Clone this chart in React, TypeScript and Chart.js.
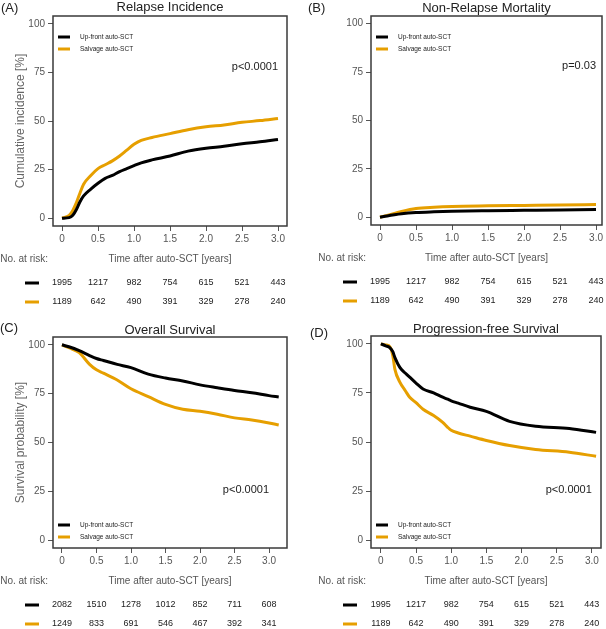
import React, { useEffect, useRef } from 'react';
import { Chart, registerables } from 'chart.js';
Chart.register(...registerables);

const FONT = '"Liberation Sans", Arial, Helvetica, sans-serif';
const BLACK = '#000000';
const ORANGE = '#E69F00';

const legendLabels = ['Up-front auto-SCT', 'Salvage auto-SCT'];
const xTickValues = [0, 0.5, 1, 1.5, 2, 2.5, 3];
const yTickValues = [0, 25, 50, 75, 100];
const riskTimes = [0, 0.5, 1, 1.5, 2, 2.5, 3];

// (A) Relapse incidence
const riTimes = [0, 0.1, 0.15, 0.2, 0.25, 0.3, 0.4, 0.5, 0.6, 0.7, 0.8, 0.9, 1.0, 1.1, 1.25, 1.5, 1.75, 2.0, 2.25, 2.5, 2.75, 3.0];
const riUpfront = [0, 0.3, 1.5, 4.5, 8.5, 11.5, 15, 18, 20.5, 22, 24, 25.5, 27, 28.5, 30, 32, 34.5, 36, 37, 38.3, 39.3, 40.5];
const riSalvage = [0, 1.5, 4, 8, 13, 17.5, 22, 25.5, 27.5, 29.5, 32, 35, 38, 40, 41.5, 43.5, 45.5, 47, 48, 49.3, 50.2, 51.3];

// (B) Non-relapse mortality
const nrmTimes = [0, 0.1, 0.2, 0.3, 0.5, 0.75, 1.0, 1.5, 2.0, 2.5, 3.0];
const nrmUpfront = [0, 0.7, 1.3, 1.8, 2.4, 2.8, 3.1, 3.4, 3.6, 3.8, 4.0];
const nrmSalvage = [0, 1.0, 2.0, 3.0, 4.5, 5.2, 5.6, 5.9, 6.1, 6.3, 6.6];

// (C) Overall survival
const osTimes = [0, 0.1, 0.25, 0.4, 0.5, 0.6, 0.8, 1.0, 1.25, 1.5, 1.75, 2.0, 2.25, 2.5, 2.75, 3.0, 3.14];
const osUpfront = [100, 99, 97, 94.5, 93, 92, 90, 88.3, 85, 83, 81.5, 79.5, 78, 76.6, 75.5, 74, 73.3];
const osSalvage = [100, 98.5, 96, 90, 87.2, 85.5, 82, 77.5, 73.5, 69.5, 67, 66, 64.5, 62.6, 61.5, 60, 59];

// (D) Progression-free survival
const pfsTimes = [0, 0.07, 0.13, 0.17, 0.2, 0.27, 0.35, 0.41, 0.5, 0.6, 0.75, 0.88, 0.95, 1.0, 1.1, 1.27, 1.5, 1.83, 2.2, 2.68, 3.06];
const pfsUpfront = [100, 99, 98, 96, 93, 88, 85, 83, 80, 77, 75, 72.8, 71.8, 71, 69.8, 67.7, 65.6, 60.5, 58, 56.9, 54.9];
const pfsSalvage = [100, 99.5, 98.5, 94, 87, 80.5, 76, 72.8, 70, 66.7, 63.5, 60, 57.5, 56, 54.6, 53, 50.8, 48.2, 46.2, 44.8, 42.7];

// Numbers at risk
const riskUpfrontCI = [1995, 1217, 982, 754, 615, 521, 443];
const riskSalvageCI = [1189, 642, 490, 391, 329, 278, 240];
const riskUpfrontOS = [2082, 1510, 1278, 1012, 852, 711, 608];
const riskSalvageOS = [1249, 833, 691, 546, 467, 392, 341];
const riskUpfrontPFS = [1995, 1217, 982, 754, 615, 521, 443];
const riskSalvagePFS = [1189, 642, 490, 391, 329, 278, 240];

type PanelDef = {
  label: string; title: string; yTitle?: string;
  times: number[]; up: number[]; sal: number[];
  riskUp: number[]; riskSal: number[];
  pText: string; pY: number; legendTop: boolean;
  xMin: number; xMax: number;
  pos: { left: number; top: number; width: number; height: number };
  area: { left: number; top: number; right: number; bottom: number };
  labelX: number; labelY: number; titleY: number;
};

const panels: PanelDef[] = [
  {
    label: '(A)', title: 'Relapse Incidence', yTitle: 'Cumulative incidence [%]',
    times: riTimes, up: riUpfront, sal: riSalvage, riskUp: riskUpfrontCI, riskSal: riskSalvageCI,
    pText: 'p<0.0001', pY: 78, legendTop: true, xMin: -0.125, xMax: 3.125,
    pos: { left: 0, top: 0, width: 303, height: 312 },
    area: { left: 53, top: 16, right: 287, bottom: 226 },
    labelX: 1, labelY: 8, titleY: 7,
  },
  {
    label: '(B)', title: 'Non-Relapse Mortality',
    times: nrmTimes, up: nrmUpfront, sal: nrmSalvage, riskUp: riskUpfrontCI, riskSal: riskSalvageCI,
    pText: 'p=0.03', pY: 78, legendTop: true, xMin: -0.125, xMax: 3.083,
    pos: { left: 303, top: 0, width: 303, height: 312 },
    area: { left: 68, top: 16, right: 299, bottom: 225 },
    labelX: 5, labelY: 8, titleY: 8,
  },
  {
    label: '(C)', title: 'Overall Survival', yTitle: 'Survival probability [%]',
    times: osTimes, up: osUpfront, sal: osSalvage, riskUp: riskUpfrontOS, riskSal: riskSalvageOS,
    pText: 'p<0.0001', pY: 25.6, legendTop: false, xMin: -0.13, xMax: 3.26,
    pos: { left: 0, top: 312, width: 303, height: 317 },
    area: { left: 53, top: 25, right: 287, bottom: 236 },
    labelX: 0, labelY: 16, titleY: 18,
  },
  {
    label: '(D)', title: 'Progression-free Survival',
    times: pfsTimes, up: pfsUpfront, sal: pfsSalvage, riskUp: riskUpfrontPFS, riskSal: riskSalvagePFS,
    pText: 'p<0.0001', pY: 25.6, legendTop: false, xMin: -0.14, xMax: 3.13,
    pos: { left: 303, top: 312, width: 303, height: 317 },
    area: { left: 68, top: 24, right: 298, bottom: 236 },
    labelX: 7, labelY: 21, titleY: 17,
  },
];

const X_AXIS_H = 20;

function makeDecor(p: PanelDef) {
  return {
    id: 'decor' + p.label,
    afterDraw(chart: any) {
      const { ctx, chartArea: a, scales } = chart;
      const xs = scales.x;
      const ys = scales.y;
      ctx.save();
      // box
      ctx.strokeStyle = '#3a3a3a';
      ctx.lineWidth = 1.5;
      ctx.strokeRect(a.left, a.top, a.right - a.left, a.bottom - a.top);

      // panel label
      ctx.fillStyle = '#222';
      ctx.textBaseline = 'middle';
      ctx.textAlign = 'left';
      ctx.font = `13px ${FONT}`;
      ctx.fillText(p.label, p.labelX, p.labelY);

      // title
      ctx.textAlign = 'center';
      ctx.font = `13px ${FONT}`;
      ctx.fillText(p.title, (a.left + a.right) / 2, p.titleY);

      // y title
      if (p.yTitle) {
        ctx.save();
        ctx.translate(21, (a.top + a.bottom) / 2);
        ctx.rotate(-Math.PI / 2);
        ctx.fillStyle = '#666';
        ctx.font = `12px ${FONT}`;
        ctx.textAlign = 'center';
        ctx.fillText(p.yTitle, 0, 0);
        ctx.restore();
      }

      // legend
      const ly1 = p.legendTop ? a.top + 21 : a.bottom - 23;
      const ly2 = p.legendTop ? a.top + 33 : a.bottom - 11;
      ctx.lineWidth = 3;
      ctx.lineCap = 'butt';
      [[ly1, BLACK, legendLabels[0]], [ly2, ORANGE, legendLabels[1]]].forEach(([y, c, t]: any) => {
        ctx.strokeStyle = c;
        ctx.beginPath();
        ctx.moveTo(a.left + 5, y);
        ctx.lineTo(a.left + 17, y);
        ctx.stroke();
        ctx.fillStyle = '#222';
        ctx.font = `6.5px ${FONT}`;
        ctx.textAlign = 'left';
        ctx.fillText(t, a.left + 27, y);
      });

      // p value
      ctx.fillStyle = '#222';
      ctx.font = `11px ${FONT}`;
      ctx.textAlign = 'right';
      ctx.fillText(p.pText, xs.getPixelForValue(3), ys.getPixelForValue(p.pY));

      // x title and risk label
      ctx.fillStyle = '#555';
      ctx.font = `10px ${FONT}`;
      ctx.textAlign = 'center';
      ctx.fillText('Time after auto-SCT [years]', (a.left + a.right) / 2, a.bottom + 33);
      ctx.textAlign = 'right';
      ctx.fillText('No. at risk:', a.left - 5, a.bottom + 33);

      // risk rows
      const rows: any[] = [[a.bottom + 57, BLACK, p.riskUp], [a.bottom + 76, ORANGE, p.riskSal]];
      rows.forEach(([y, c, vals]) => {
        ctx.strokeStyle = c;
        ctx.lineWidth = 3;
        ctx.beginPath();
        ctx.moveTo(a.left - 28, y);
        ctx.lineTo(a.left - 14, y);
        ctx.stroke();
        ctx.fillStyle = '#222';
        ctx.font = `9px ${FONT}`;
        ctx.textAlign = 'center';
        vals.forEach((v: number, i: number) => {
          ctx.fillText(String(v), xs.getPixelForValue(riskTimes[i]), y);
        });
      });
      ctx.restore();
    },
  };
}

function Panel({ p }: { p: PanelDef }) {
  const ref = useRef<HTMLCanvasElement | null>(null);
  useEffect(() => {
    if (!ref.current) return;
    const pad = {
      left: 0,
      top: p.area.top,
      right: p.pos.width - p.area.right,
      bottom: p.pos.height - p.area.bottom - X_AXIS_H,
    };
    const mk = (vals: number[]) => p.times.map((t, i) => ({ x: t, y: vals[i] }));
    const line = { borderWidth: 3, pointRadius: 0, cubicInterpolationMode: 'monotone', borderJoinStyle: 'round' };
    const chart = new Chart(ref.current, {
      type: 'line',
      data: {
        datasets: [
          { label: legendLabels[0], data: mk(p.up), borderColor: BLACK, backgroundColor: BLACK, ...line },
          { label: legendLabels[1], data: mk(p.sal), borderColor: ORANGE, backgroundColor: ORANGE, ...line },
        ],
      },
      options: {
        responsive: false,
        animation: false,
        devicePixelRatio: 1,
        layout: { padding: pad },
        plugins: { legend: { display: false }, tooltip: { enabled: false }, title: { display: false } },
        scales: {
          x: {
            type: 'linear',
            min: p.xMin,
            max: p.xMax,
            afterBuildTicks: (axis: any) => { axis.ticks = xTickValues.map((v) => ({ value: v })); },
            afterFit: (axis: any) => { axis.height = X_AXIS_H; },
            ticks: {
              color: '#555', font: { family: FONT, size: 10 }, padding: 2, maxRotation: 0, autoSkip: false,
              callback: (v: any) => (Number(v) === 0 ? '0' : Number(v).toFixed(1)),
            },
            grid: { drawOnChartArea: false, drawTicks: true, tickLength: 5, color: '#555', tickWidth: 1 },
            border: { display: false },
          },
          y: {
            type: 'linear',
            min: -4,
            max: 104,
            afterBuildTicks: (axis: any) => { axis.ticks = yTickValues.map((v) => ({ value: v })); },
            afterFit: (axis: any) => { axis.width = p.area.left; },
            ticks: { color: '#555', font: { family: FONT, size: 10 }, padding: 3, autoSkip: false },
            grid: { drawOnChartArea: false, drawTicks: true, tickLength: 5, color: '#555', tickWidth: 1 },
            border: { display: false },
          },
        },
      },
      plugins: [makeDecor(p)],
    } as any);
    return () => chart.destroy();
  }, [p]);
  return (
    <canvas
      ref={ref}
      width={p.pos.width}
      height={p.pos.height}
      style={{ position: 'absolute', left: p.pos.left, top: p.pos.top, width: p.pos.width, height: p.pos.height }}
    />
  );
}

export default function App() {
  return (
    <div style={{ position: 'absolute', left: 0, top: 0, width: 606, height: 629, background: '#fff', overflow: 'hidden' }}>
      {panels.map((p) => <Panel key={p.label} p={p} />)}
    </div>
  );
}
